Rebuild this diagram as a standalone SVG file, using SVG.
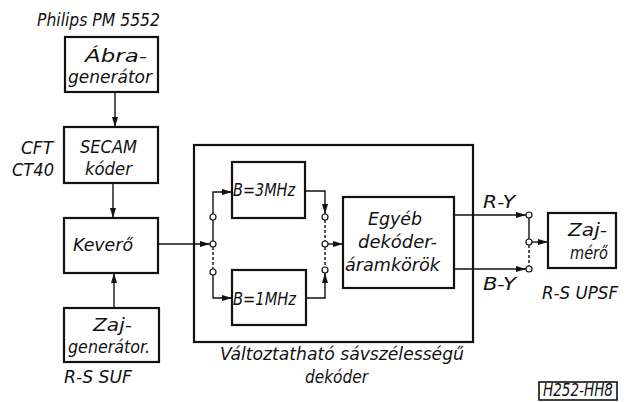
<svg xmlns="http://www.w3.org/2000/svg" width="629" height="402" viewBox="0 0 629 402">
<defs>
<style>
.box{fill:#fff;stroke:#111;stroke-width:2.2}
.ln{fill:none;stroke:#111;stroke-width:1.4}
.dash{fill:none;stroke:#111;stroke-width:1.4;stroke-dasharray:3 2}
.nd{fill:#fff;stroke:#111;stroke-width:1.2}
text{font-family:"DejaVu Sans Condensed","DejaVu Sans",sans-serif;font-style:italic;font-size:18px;fill:#111}
</style>
<marker id="ah" markerWidth="10" markerHeight="6" refX="10" refY="3" orient="auto" markerUnits="userSpaceOnUse">
<path d="M0,0 L10,3 L0,6 Z" fill="#111"/>
</marker>
</defs>
<rect width="629" height="402" fill="#fff"/>

<text x="37" y="26" textLength="123" lengthAdjust="spacingAndGlyphs">Philips PM 5552</text>
<text x="21" y="154" textLength="32" lengthAdjust="spacingAndGlyphs">CFT</text>
<text x="12" y="176" textLength="42" lengthAdjust="spacingAndGlyphs">CT40</text>
<text x="64" y="383" textLength="68" lengthAdjust="spacingAndGlyphs">R-S SUF</text>
<text x="542" y="299" textLength="76" lengthAdjust="spacingAndGlyphs">R-S UPSF</text>
<text x="483" y="208" textLength="32" lengthAdjust="spacingAndGlyphs">R-Y</text>
<text x="483" y="290" textLength="33" lengthAdjust="spacingAndGlyphs">B-Y</text>
<text x="220" y="360" textLength="244" lengthAdjust="spacingAndGlyphs">Változtatható sávszélességű</text>
<text x="305" y="383" textLength="63" lengthAdjust="spacingAndGlyphs">dekóder</text>

<g id="abra">
<rect class="box" x="65" y="37" width="93" height="55"/>
<text x="85" y="62" textLength="62" lengthAdjust="spacingAndGlyphs">Ábra-</text>
<text x="68" y="83" textLength="84" lengthAdjust="spacingAndGlyphs">generátor</text>
</g>
<g id="secam">
<rect class="box" x="64" y="127" width="94" height="56"/>
<text x="80" y="153" textLength="57" lengthAdjust="spacingAndGlyphs">SECAM</text>
<text x="85" y="175" textLength="47" lengthAdjust="spacingAndGlyphs">kóder</text>
</g>
<g id="kevero">
<rect class="box" x="64" y="218" width="94" height="55"/>
<text x="73" y="251" textLength="60" lengthAdjust="spacingAndGlyphs">Keverő</text>
</g>
<g id="zajgen">
<rect class="box" x="64" y="308" width="95" height="54"/>
<text x="93" y="331" textLength="39" lengthAdjust="spacingAndGlyphs">Zaj-</text>
<text x="68" y="353" textLength="82" lengthAdjust="spacingAndGlyphs">generátor.</text>
</g>
<g id="dekoder">
<rect class="box" x="194" y="145" width="279" height="197" fill="none"/>
</g>
<g id="b3">
<rect class="box" x="232" y="162" width="73" height="56"/>
<text x="233" y="196" textLength="62" lengthAdjust="spacingAndGlyphs">B=3MHz</text>
</g>
<g id="b1">
<rect class="box" x="232" y="270" width="74" height="55"/>
<text x="233" y="305" textLength="63" lengthAdjust="spacingAndGlyphs">B=1MHz</text>
</g>
<g id="egyeb">
<rect class="box" x="343" y="197" width="111" height="91"/>
<text x="368" y="225" textLength="54" lengthAdjust="spacingAndGlyphs">Egyéb</text>
<text x="358" y="248" textLength="79" lengthAdjust="spacingAndGlyphs">dekóder-</text>
<text x="345" y="271" textLength="95" lengthAdjust="spacingAndGlyphs">áramkörök</text>
</g>
<g id="zajmero">
<rect class="box" x="548" y="213" width="68" height="55"/>
<text x="568" y="236" textLength="39" lengthAdjust="spacingAndGlyphs">Zaj-</text>
<text x="570" y="259" textLength="38" lengthAdjust="spacingAndGlyphs">mérő</text>
</g>
<g id="label-h252">
<rect x="539" y="382" width="78" height="18" fill="none" stroke="#111" stroke-width="1.6"/>
<text x="543" y="396" font-size="14" textLength="70" lengthAdjust="spacingAndGlyphs">H252-HH8</text>
</g>

<g id="connectors">
<line class="ln" x1="115" y1="92" x2="115" y2="127" marker-end="url(#ah)"/>
<line class="ln" x1="113" y1="183" x2="113" y2="218" marker-end="url(#ah)"/>
<line class="ln" x1="114" y1="308" x2="114" y2="273" marker-end="url(#ah)"/>
<line class="ln" x1="158" y1="244" x2="210" y2="244" marker-end="url(#ah)"/>
<polyline class="ln" points="213,214 213,192 232,192" marker-end="url(#ah)"/>
<polyline class="ln" points="213,275 213,298 232,298" marker-end="url(#ah)"/>
<line class="ln" x1="213" y1="220" x2="213" y2="241"/>
<line class="dash" x1="213" y1="247" x2="213" y2="269"/>
<polyline class="ln" points="305,191 325,191 325,214" marker-end="url(#ah)"/>
<polyline class="ln" points="306,298 325,298 325,273" marker-end="url(#ah)"/>
<line class="dash" x1="325" y1="220" x2="325" y2="241"/>
<line class="dash" x1="325" y1="247" x2="325" y2="267"/>
<line class="ln" x1="328" y1="244" x2="343" y2="244" marker-end="url(#ah)"/>
<line class="ln" x1="454" y1="215" x2="526" y2="215" marker-end="url(#ah)"/>
<line class="ln" x1="454" y1="269" x2="526" y2="269" marker-end="url(#ah)"/>
<line class="ln" x1="529" y1="218" x2="529" y2="239"/>
<line class="dash" x1="529" y1="245" x2="529" y2="266"/>
<line class="ln" x1="532" y1="242" x2="548" y2="242" marker-end="url(#ah)"/>
<circle class="nd" cx="213" cy="217" r="3"/>
<circle class="nd" cx="213" cy="244" r="3"/>
<circle class="nd" cx="213" cy="272" r="3"/>
<circle class="nd" cx="325" cy="217" r="3"/>
<circle class="nd" cx="325" cy="244" r="3"/>
<circle class="nd" cx="325" cy="270" r="3"/>
<circle class="nd" cx="529" cy="215" r="3"/>
<circle class="nd" cx="529" cy="242" r="3"/>
<circle class="nd" cx="529" cy="269" r="3"/>
</g>
</svg>
